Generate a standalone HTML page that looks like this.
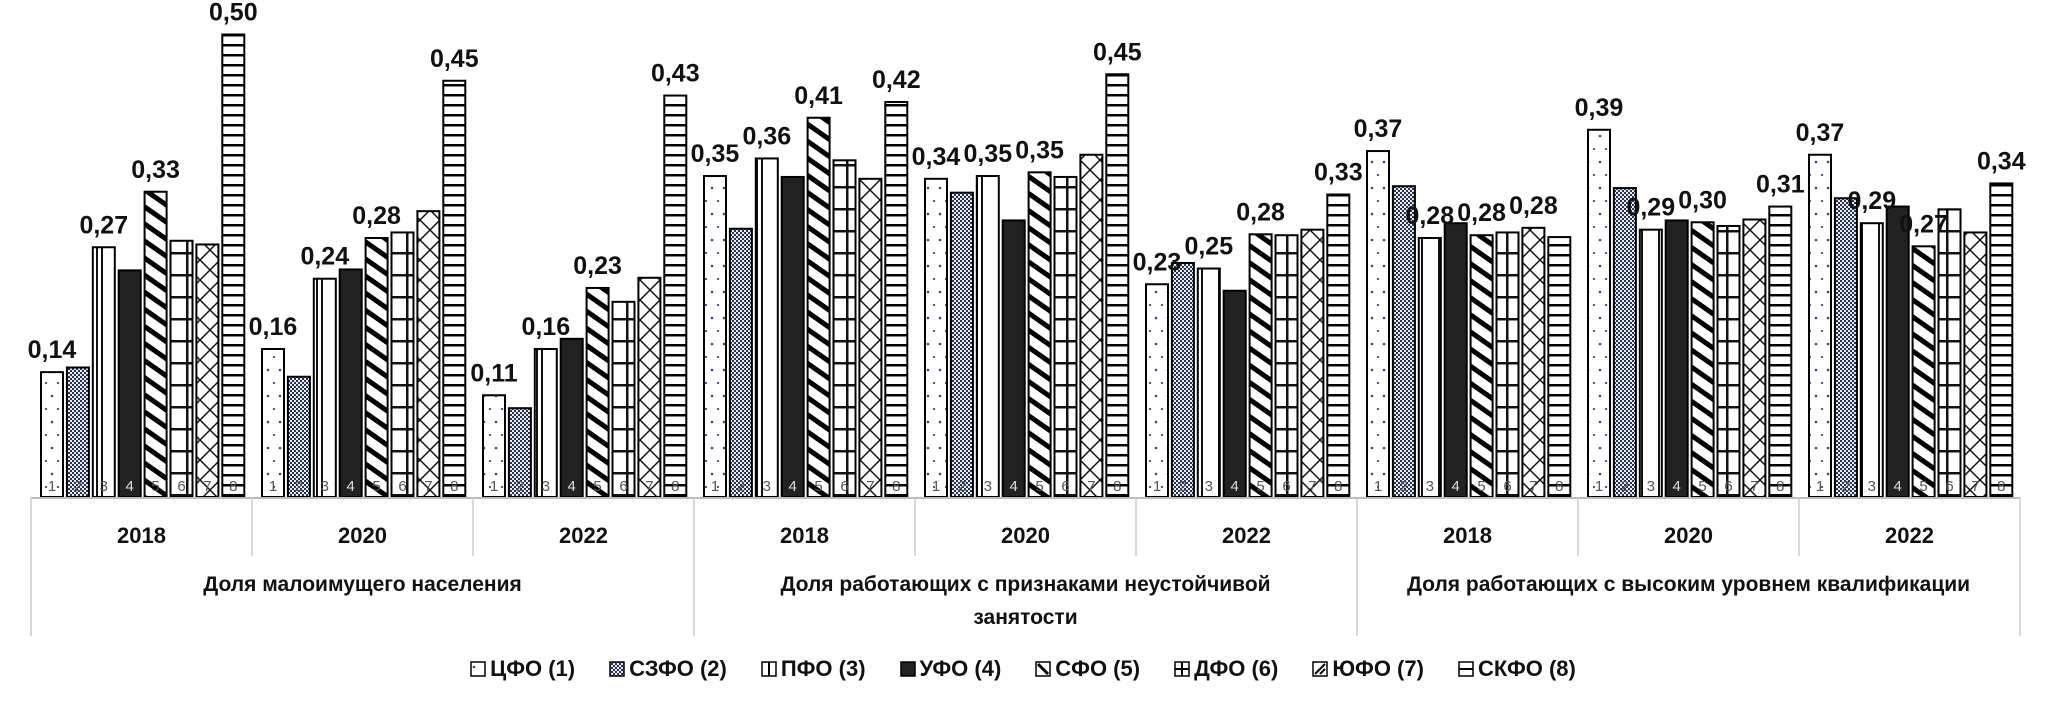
<!DOCTYPE html>
<html><head><meta charset="utf-8">
<style>
html,body{margin:0;padding:0;background:#fff;}
body{width:2046px;height:720px;overflow:hidden;font-family:"Liberation Sans","DejaVu Sans",sans-serif;}
svg{display:block}
.lg{position:absolute;top:656px;left:0;width:2046px;display:flex;justify-content:center;gap:34px;font-weight:bold;font-size:22px;color:#111;}
.lg span{display:flex;align-items:center;gap:4px}
</style></head>
<body>
<svg id="chart" width="2046" height="720" viewBox="0 0 2046 720" xmlns="http://www.w3.org/2000/svg">
<defs>
<pattern id="p1" width="12" height="26" patternUnits="userSpaceOnUse"><rect width="12" height="26" fill="#fff"/><circle cx="4" cy="6" r="1.3" fill="#3a4a7a"/><circle cx="10" cy="19" r="1.1" fill="#3a4a7a"/></pattern>
<pattern id="p2" width="4" height="4" patternUnits="userSpaceOnUse"><rect width="4" height="4" fill="#e8ecf4"/><rect width="2" height="2" fill="#28324e"/><rect x="2" y="2" width="2" height="2" fill="#28324e"/></pattern>
<pattern id="p3" width="22" height="10" patternUnits="userSpaceOnUse"><rect width="22" height="10" fill="#fff"/><rect x="8" width="2" height="10" fill="#111"/><rect x="13" width="2" height="10" fill="#111"/></pattern>
<pattern id="p4" width="10" height="10" patternUnits="userSpaceOnUse"><rect width="10" height="10" fill="#222"/></pattern>
<pattern id="p5" width="14" height="14" patternUnits="userSpaceOnUse" patternTransform="rotate(35)"><rect width="14" height="14" fill="#fff"/><rect width="14" height="5" fill="#000"/></pattern>
<pattern id="p6" width="22" height="22" patternUnits="userSpaceOnUse"><rect width="22" height="22" fill="#fff"/><rect x="10" width="2.5" height="22" fill="#111"/><rect y="10" width="22" height="2.5" fill="#111"/></pattern>
<pattern id="p7" width="20" height="20" patternUnits="userSpaceOnUse"><rect width="20" height="20" fill="#fff"/><path d="M0 0L20 20M20 0L0 20" stroke="#111" stroke-width="1.5"/></pattern>
<pattern id="p8" width="10" height="10" patternUnits="userSpaceOnUse"><rect width="10" height="10" fill="#fff"/><rect y="4" width="10" height="2.5" fill="#000"/></pattern>
</defs>
<g id="bars"></g>
<g id="axis"></g>
</svg>
<div class="lg">
<span><svg width="16" height="16"><rect x="1" y="1" width="14" height="14" fill="url(#p1)" stroke="#000" stroke-width="1.5"/></svg>ЦФО (1)</span>
<span><svg width="16" height="16"><rect x="1" y="1" width="14" height="14" fill="url(#p2)" stroke="#000" stroke-width="1.5"/></svg>СЗФО (2)</span>
<span><svg width="16" height="16"><rect x="1" y="1" width="14" height="14" fill="#fff" stroke="#000" stroke-width="1.5"/><rect x="7" y="1" width="2" height="14"/></svg>ПФО (3)</span>
<span><svg width="16" height="16"><rect x="1" y="1" width="14" height="14" fill="#222" stroke="#000" stroke-width="1.5"/></svg>УФО (4)</span>
<span><svg width="16" height="16"><rect x="1" y="1" width="14" height="14" fill="#fff" stroke="#000" stroke-width="1.5"/><path d="M3 3L13 13" stroke="#000" stroke-width="3"/></svg>СФО (5)</span>
<span><svg width="16" height="16"><rect x="1" y="1" width="14" height="14" fill="#fff" stroke="#000" stroke-width="1.5"/><path d="M8 1V15M1 8H15" stroke="#000" stroke-width="2"/></svg>ДФО (6)</span>
<span><svg width="16" height="16"><rect x="1" y="1" width="14" height="14" fill="#fff" stroke="#000" stroke-width="1.5"/><path d="M3 13L13 3M8 13L13 8" stroke="#000" stroke-width="2"/></svg>ЮФО (7)</span>
<span><svg width="16" height="16"><rect x="1" y="1" width="14" height="14" fill="#fff" stroke="#000" stroke-width="1.5"/><path d="M1 8H15" stroke="#000" stroke-width="2"/></svg>СКФО (8)</span>
</div>
<script>
const years = ["2018","2020","2022","2018","2020","2022","2018","2020","2022"];
const categories = ["Доля малоимущего населения","Доля работающих с признаками неустойчивой|занятости","Доля работающих с высоким уровнем квалификации"];
const series = ["ЦФО (1)","СЗФО (2)","ПФО (3)","УФО (4)","СФО (5)","ДФО (6)","ЮФО (7)","СКФО (8)"];
const values = [
 [0.135,0.14,0.27,0.245,0.33,0.277,0.273,0.50],
 [0.16,0.13,0.236,0.246,0.28,0.286,0.309,0.45],
 [0.11,0.096,0.16,0.171,0.226,0.211,0.237,0.434],
 [0.347,0.29,0.366,0.346,0.41,0.364,0.344,0.427],
 [0.344,0.329,0.347,0.299,0.351,0.346,0.37,0.457],
 [0.23,0.253,0.247,0.223,0.284,0.283,0.289,0.327],
 [0.374,0.336,0.28,0.296,0.283,0.286,0.291,0.281],
 [0.397,0.334,0.289,0.299,0.297,0.293,0.30,0.314],
 [0.37,0.323,0.296,0.314,0.271,0.311,0.286,0.339]
];
const labelSeries = [[0,2,4,7],[0,2,4,7],[0,2,4,7],[0,2,4,7],[0,2,4,7],[0,2,4,7],[0,2,4,6],[0,2,4,7],[0,2,4,7]];
const labelTexts = [
 ["0,14","0,27","0,33","0,50"],["0,16","0,24","0,28","0,45"],["0,11","0,16","0,23","0,43"],
 ["0,35","0,36","0,41","0,42"],["0,34","0,35","0,35","0,45"],["0,23","0,25","0,28","0,33"],
 ["0,37","0,28","0,28","0,28"],["0,39","0,29","0,30","0,31"],["0,37","0,29","0,27","0,34"]
];
const NS="http://www.w3.org/2000/svg";
const X0=31, GW=221, BASE=497, UNIT=925, BW=22, PITCH=25.9, OFF=10;
const yS=v=>BASE-v*UNIT;
const xB=(g,s)=>X0+g*GW+OFF+s*PITCH;
const bars=document.getElementById('bars'), axis=document.getElementById('axis');
function mk(tag,attrs,parent){const e=document.createElementNS(NS,tag);for(const k in attrs)e.setAttribute(k,attrs[k]);parent.appendChild(e);return e;}
values.forEach((grp,g)=>{
  grp.forEach((v,s)=>{
    const r=mk('rect',{x:xB(g,s),y:yS(v),width:BW,height:BASE-yS(v),fill:'url(#p'+(s+1)+')',stroke:'#000','stroke-width':2},bars);
    
    
    const n=mk('text',{x:xB(g,s)+BW/2,y:BASE-6,'text-anchor':'middle','font-size':15,fill:s===3?'#ddd':'#555','font-family':'Liberation Sans, sans-serif'},bars);
    n.textContent=String(s+1);
    
    
  });
  labelSeries[g].forEach((s,i)=>{
    const t=mk('text',{x:xB(g,s)+BW/2,y:yS(grp[s])-14,'text-anchor':'middle','font-size':25,'font-weight':'bold',fill:'#111','font-family':'Liberation Sans, sans-serif'},bars);
    t.textContent=labelTexts[g][i];
    
    
  });
  const yt=mk('text',{x:X0+g*GW+GW/2,y:543,'text-anchor':'middle','font-size':22,'font-weight':'bold',fill:'#111','font-family':'Liberation Sans, sans-serif'},axis);
  yt.textContent=years[g];
  
  
});
const al=mk('line',{x1:X0,x2:X0+9*GW,y1:BASE+1,y2:BASE+1,stroke:'#bbb','stroke-width':2},axis);


for(let i=0;i<=9;i++){
  const big=i%3===0;
  const l=mk('line',{x1:X0+i*GW,x2:X0+i*GW,y1:BASE,y2:big?636:556,stroke:'#ccc','stroke-width':1.5},axis);
  
  
}
categories.forEach((c,i)=>{
  c.split('|').forEach((ln,j)=>{
    const t=mk('text',{x:X0+i*3*GW+1.5*GW,y:591+j*33,'text-anchor':'middle','font-size':21,'font-weight':'bold',fill:'#111','font-family':'Liberation Sans, sans-serif'},axis);
    t.textContent=ln;
    
    
  });
});
</script>
</body></html>
